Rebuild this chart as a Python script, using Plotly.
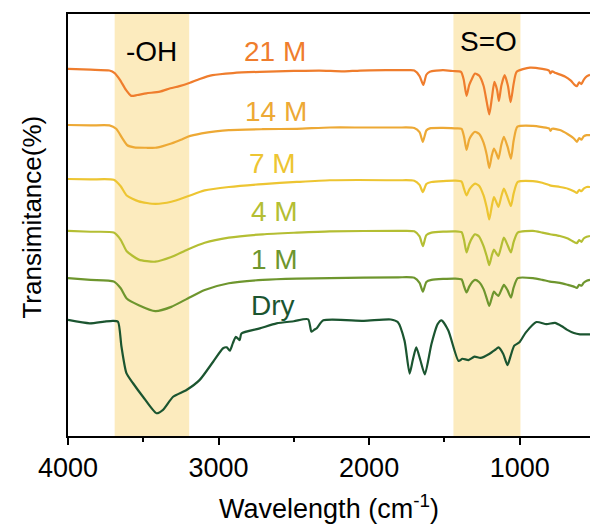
import plotly.graph_objects as go

# ---- FTIR spectra (wavenumber in cm^-1, transmittance with stacking offset) ----
wn_21 = [4000, 3850, 3725, 3690, 3655, 3615, 3580, 3540, 3480, 3390, 3320, 3260, 3190, 3125,
         3040, 2905, 2725, 2500, 2330, 2170, 2060, 1730, 1700, 1665, 1640, 1620, 1597, 1510,
         1445, 1390, 1372, 1353, 1335, 1315, 1297, 1270, 1240, 1218, 1202, 1185, 1168, 1150,
         1138, 1122, 1100, 1078, 1060, 1040, 1020, 932, 850, 805, 795, 785, 760, 700, 660,
         635, 620, 605, 590, 575, 555, 533]
t_21 = [87.0, 86.8, 86.6, 86.0, 84.4, 82.0, 80.6, 80.8, 81.2, 81.6, 82.4, 82.9, 83.7, 84.6,
        85.5, 86.0, 86.3, 86.5, 86.6, 86.4, 86.6, 86.7, 86.6, 85.3, 83.2, 85.6, 86.3, 86.7,
        86.5, 86.3, 84.5, 80.6, 83.2, 84.8, 85.9, 85.4, 83.0, 79.0, 76.2, 80.0, 83.9, 82.0,
        79.4, 83.0, 85.5, 83.0, 79.1, 83.5, 86.3, 87.3, 87.0, 86.6, 85.9, 86.4, 86.0, 85.2,
        84.2, 83.2, 82.9, 83.8, 83.4, 84.4, 85.2, 85.6]

wn_14 = [4000, 3850, 3725, 3680, 3640, 3606, 3560, 3480, 3420, 3370, 3314, 3250, 3205, 3112,
         3020, 2932, 2706, 2480, 2261, 2040, 1809, 1700, 1665, 1643, 1620, 1597, 1510, 1430,
         1386, 1370, 1353, 1335, 1315, 1297, 1270, 1240, 1218, 1202, 1185, 1171, 1155, 1141,
         1122, 1105, 1080, 1058, 1040, 1015, 912, 850, 805, 795, 785, 733, 680, 640, 620,
         605, 590, 575, 555, 533]
t_14 = [73.7, 73.6, 73.6, 72.8, 70.6, 68.9, 68.4, 68.3, 68.3, 68.7, 69.3, 70.2, 70.9, 71.7,
        72.2, 72.5, 72.7, 72.8, 73.1, 73.1, 73.1, 73.0, 72.0, 69.7, 72.4, 72.9, 73.0, 72.9,
        72.8, 71.0, 67.8, 70.3, 71.5, 72.1, 71.6, 69.5, 66.5, 63.5, 66.5, 68.1, 67.0, 65.7,
        69.0, 70.9, 68.5, 65.7, 70.0, 73.3, 73.5, 73.2, 72.9, 72.3, 72.8, 72.5, 71.5, 70.5,
        69.7, 70.6, 70.2, 71.0, 71.3, 71.3]

wn_common = [4000, 3850, 3696, 3650, 3610, 3530, 3420, 3314, 3205, 3092, 2932, 2706, 2480,
             2261, 1809, 1700, 1665, 1643, 1620, 1586, 1430, 1386, 1370, 1353, 1335, 1315,
             1297, 1270, 1240, 1218, 1202, 1185, 1171, 1155, 1141, 1122, 1105, 1080, 1058,
             1040, 1013, 912, 850, 799, 733, 680, 640, 620, 605, 590, 575, 555, 533]
t_7 = [60.9, 60.8, 60.7, 59.2, 57.0, 55.6, 55.0, 55.5, 56.8, 58.2, 59.0, 59.7, 60.2, 60.6,
       60.6, 60.5, 59.5, 57.8, 59.7, 60.2, 60.5, 60.3, 58.6, 57.0, 58.4, 59.3, 59.8, 59.3,
       57.0, 54.0, 51.3, 54.5, 56.6, 55.4, 54.3, 56.8, 58.6, 56.5, 54.5, 57.5, 60.2, 60.4,
       60.0, 59.4, 59.0, 58.6, 58.0, 57.6, 58.3, 58.0, 58.6, 59.0, 59.0]
t_4 = [48.6, 48.4, 48.2, 46.5, 43.8, 41.8, 41.3, 42.4, 44.2, 45.8, 47.0, 47.8, 48.2, 48.5,
       48.6, 48.5, 47.3, 45.0, 47.6, 48.2, 48.5, 48.3, 46.5, 43.5, 45.5, 47.0, 47.8, 47.3,
       45.0, 42.5, 40.5, 42.8, 44.2, 43.3, 42.7, 45.0, 47.0, 45.2, 43.5, 46.0, 48.2, 48.6,
       48.2, 47.8, 47.4, 46.8, 46.0, 45.7, 46.4, 46.0, 46.8, 47.2, 47.4]
t_1 = [37.4, 37.0, 36.6, 35.0, 32.6, 31.0, 29.6, 30.6, 32.6, 34.6, 36.2, 37.0, 37.3, 37.4,
       37.6, 37.5, 36.3, 34.2, 36.5, 37.0, 37.3, 37.1, 35.5, 34.0, 35.4, 36.5, 37.0, 36.5,
       34.8, 32.5, 30.8, 32.8, 34.2, 33.6, 33.2, 34.6, 35.8, 34.5, 32.8, 35.2, 37.4, 37.4,
       37.0, 36.6, 36.3, 35.8, 35.4, 35.1, 35.8, 35.6, 36.3, 36.8, 37.0]

wn_dry = [4000, 3856, 3760, 3701, 3668, 3645, 3612, 3568, 3502, 3413, 3369, 3302, 3213, 3125,
          3036, 2970, 2945, 2925, 2905, 2885, 2860, 2848, 2726, 2615, 2500, 2405, 2383, 2360,
          2349, 2304, 2035, 1856, 1810, 1765, 1731, 1710, 1687, 1660, 1630, 1586, 1545, 1519,
          1474, 1406, 1380, 1340, 1300, 1260, 1200, 1160, 1141, 1110, 1081, 1060, 1036, 1002,
          960, 889, 822, 766, 720, 687, 640, 600, 533]
t_dry = [27.5, 26.7, 27.1, 27.3, 27.1, 21.2, 14.9, 12.5, 9.3, 5.4, 6.2, 9.3, 10.9, 13.3,
         17.6, 20.8, 21.0, 20.2, 22.0, 23.5, 22.7, 24.3, 25.5, 26.7, 27.2, 27.65, 24.7, 25.3,
         25.5, 27.4, 27.3, 27.6, 27.0, 22.6, 14.8, 18.0, 21.0, 18.0, 14.6, 21.8, 26.5, 27.4,
         25.0, 17.8, 18.3, 18.0, 18.8, 18.5, 19.5, 20.5, 21.0, 19.5, 16.8, 19.0, 21.4, 22.2,
         24.5, 27.0, 26.5, 26.8, 26.0, 25.2, 24.4, 24.1, 24.1]

series_names = ["21 M", "14 M", "7 M", "4 M", "1 M", "Dry"]
series_x = [wn_21, wn_14, wn_common, wn_common, wn_common, wn_dry]
series_y = [t_21, t_14, t_7, t_4, t_1, t_dry]
series_colors = ["#EF7D2D", "#EDA935", "#EDC532", "#B4BE33", "#6E962E", "#1B5530"]

# label anchor positions (wavenumber, transmittance)
label_x = [2626, 2620, 2640, 2630, 2630, 2640]
label_y = [91.0, 76.9, 64.5, 53.1, 41.8, 31.0]

# highlighted absorption bands
band_names = ["-OH", "S=O"]
band_lo = [3195, 995]
band_hi = [3690, 1440]
band_label_x = [3446, 1204]
band_label_y = [91.0, 93.4]

FONT = "Arial, Liberation Sans, sans-serif"
fig = go.Figure()

for lo, hi in zip(band_lo, band_hi):
    fig.add_shape(type="rect", xref="x", yref="paper", x0=hi, x1=lo, y0=0, y1=1,
                  fillcolor="#FCEBBE", line_width=0, layer="below")

for xs, ys, c, name in zip(series_x, series_y, series_colors, series_names):
    fig.add_trace(go.Scatter(x=xs, y=ys, mode="lines", name=name,
                             line=dict(color=c, width=2.2, shape="spline", smoothing=0.6),
                             showlegend=False))

for name, lx, ly, c in zip(series_names, label_x, label_y, series_colors):
    fig.add_annotation(x=lx, y=ly, text=name, showarrow=False,
                       font=dict(family=FONT, size=28, color=c))

for name, lx, ly in zip(band_names, band_label_x, band_label_y):
    fig.add_annotation(x=lx, y=ly, text=name, showarrow=False,
                       font=dict(family=FONT, size=28, color="black"))

# y-axis title
fig.add_annotation(xref="paper", yref="paper", x=-0.069, y=0.52, text="Transimitance(%)",
                   textangle=-90, showarrow=False, xanchor="center", yanchor="middle",
                   font=dict(family=FONT, size=26, color="black"))

fig.update_layout(
    width=590, height=527,
    margin=dict(l=68, r=0, t=14, b=91),
    plot_bgcolor="white", paper_bgcolor="white",
    font=dict(family=FONT, size=27, color="black"),
)
fig.update_xaxes(
    range=[4000, 533], showgrid=False, zeroline=False,
    showline=True, linecolor="black", linewidth=1.5, mirror=True,
    ticks="outside", ticklen=7, tickwidth=1.5, tickcolor="black",
    tick0=0, dtick=1000, tickfont=dict(size=27),
    minor=dict(ticks="outside", ticklen=4, tickwidth=1.5, tickcolor="black", dtick=500),
    title=dict(text="Wavelength (cm<sup>-1</sup>)", font=dict(size=27), standoff=17),
)
fig.update_yaxes(
    range=[0, 100], showgrid=False, zeroline=False,
    showline=True, linecolor="black", linewidth=1.5,
    showticklabels=False, ticks="",
)

fig.write_html("out.html")
